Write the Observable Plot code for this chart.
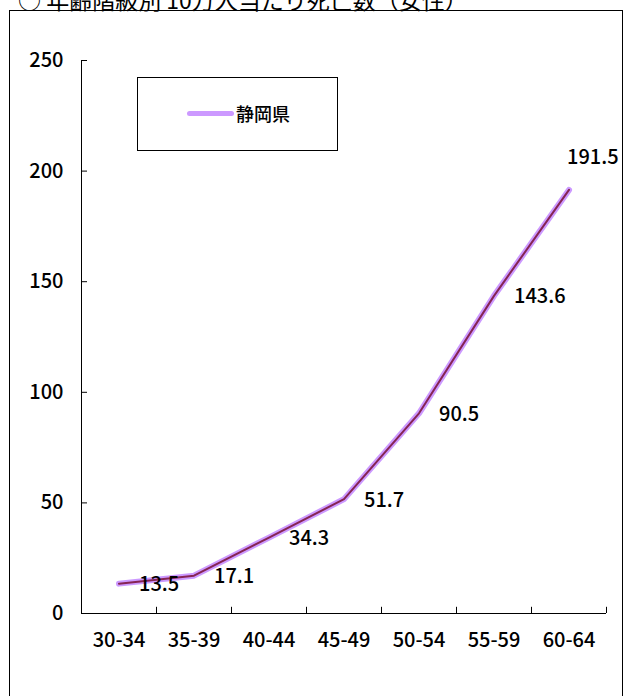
<!DOCTYPE html>
<html>
<head>
<meta charset="utf-8">
<script src="https://cdn.jsdelivr.net/npm/d3@7"></script>
<script src="https://cdn.jsdelivr.net/npm/@observablehq/plot@0.6"></script>
<style>
  body { margin: 0; background: #fff; font-family: "Noto Sans CJK JP", sans-serif; }
  #wrap { position: relative; width: 629px; height: 696px; overflow: hidden; background: #fff; }
  #title { position: absolute; left: 18px; top: -13px; font-size: 23px; line-height: 24px; white-space: nowrap; color: #000; font-weight: 400; }
  #frame { position: absolute; left: 9px; top: 10px; width: 612px; height: 720px; border: 1px solid #000; pointer-events: none; }
  #legend { position: absolute; left: 137px; top: 77px; width: 199px; height: 72px; border: 1px solid #000; background: #fff; }
  #legend .sw { position: absolute; left: 49px; top: 33px; width: 47px; height: 5px; border-radius: 3px; background: #cc99ff; }
  #legend .lb { position: absolute; left: 98px; top: 23px; font-size: 18px; line-height: 24px; font-weight: 500; }
  #chart { position: absolute; left: 0; top: 0; }
</style>
</head>
<body>
<div id="wrap">
  <div id="chart"></div>
  <div id="frame"></div>
  <div id="title">○ 年齢階級別 10万人当たり死亡数（女性）</div>
  <div id="legend"><div class="sw"></div><div class="lb">静岡県</div></div>
</div>
<script>
const categories = ["30-34", "35-39", "40-44", "45-49", "50-54", "55-59", "60-64"];
const values = [13.5, 17.1, 34.3, 51.7, 90.5, 143.6, 191.5];
const labels = ["13.5", "17.1", "34.3", "51.7", "90.5", "143.6", "191.5"];
const yTicks = [0, 50, 100, 150, 200, 250];
const seriesName = "静岡県";

const data = categories.map((c, i) => ({cat: c, i, pos: i + 0.5, value: values[i], label: labels[i]}));
const bounds = d3.range(categories.length + 1);
const font = "Noto Sans CJK JP, sans-serif";

const chart = Plot.plot({
  width: 629,
  height: 696,
  marginTop: 60,
  marginLeft: 81,
  marginRight: 23,
  marginBottom: 83,
  style: {background: "transparent", fontFamily: font, overflow: "visible"},
  x: {domain: [0, categories.length], axis: null},
  y: {domain: [0, 250], axis: null},
  marks: [
    Plot.ruleX([0], {stroke: "#000", strokeWidth: 1}),
    Plot.ruleY([0], {stroke: "#000", strokeWidth: 1}),
    Plot.ruleX(bounds, {x: d => d, y1: 0, y2: 2.8, stroke: "#000", strokeWidth: 1}),
    Plot.ruleY(yTicks, {y: d => d, x1: 0, x2: 0.08, stroke: "#000", strokeWidth: 1}),
    Plot.text(yTicks, {x: 0, y: d => d, text: d => String(d), dx: -18, textAnchor: "end", fontSize: 20, fontWeight: 500, fill: "#000"}),
    Plot.text(data, {x: "pos", y: 0, text: "cat", dy: 27, textAnchor: "middle", fontSize: 20, fontWeight: 500, fill: "#000"}),
    Plot.line(data, {x: "pos", y: "value", stroke: "#cc99ff", strokeWidth: 6, strokeLinecap: "round", strokeLinejoin: "round"}),
    Plot.line(data, {x: "pos", y: "value", stroke: "#862454", strokeWidth: 2, strokeLinejoin: "round"}),
    Plot.text(data.slice(0, -1), {x: "pos", y: "value", text: "label", dx: 20, dy: 1, textAnchor: "start", fontSize: 20, fontWeight: 500, fill: "#000"}),
    Plot.text(data.slice(-1), {x: "pos", y: "value", text: "label", dx: -2, dy: -32, textAnchor: "start", fontSize: 20, fontWeight: 500, fill: "#000"})
  ]
});
document.getElementById("chart").appendChild(chart);
</script>
</body>
</html>
